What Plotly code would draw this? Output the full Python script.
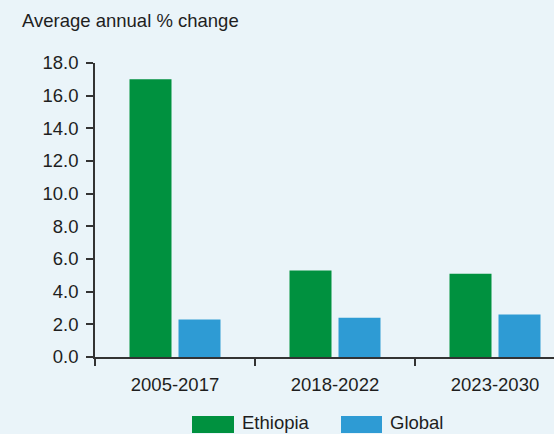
import plotly.graph_objects as go

categories = ["2005-2017", "2018-2022", "2023-2030"]
ethiopia = [17.0, 5.3, 5.1]
global_vals = [2.3, 2.4, 2.6]
y_ticks = [0, 2, 4, 6, 8, 10, 12, 14, 16, 18]
y_tick_labels = ["0.0", "2.0", "4.0", "6.0", "8.0", "10.0", "12.0", "14.0", "16.0", "18.0"]

GREEN = "#00913F"
BLUE = "#2E9BD4"
BG = "#EAF4F9"
AXIS = "#333333"
TXT = "#1e1e1e"
FONT = "Liberation Sans, Arial, Helvetica, sans-serif"
FS = 18.5

W, H = 554, 434
L, R, T, B = 95, 0, 63, 77

fig = go.Figure()
fig.add_trace(go.Bar(x=categories, y=ethiopia, name="Ethiopia", marker=dict(color=GREEN, line=dict(width=0)), showlegend=False))
fig.add_trace(go.Bar(x=categories, y=global_vals, name="Global", marker=dict(color=BLUE, line=dict(width=0)), showlegend=False))

# custom legend (large swatches)
def px_x(px):
    return (px - L) / (W - L - R)

def px_y(py):
    return (H - B - py) / (H - T - B)

legend_items = [("Ethiopia", GREEN, 192, 234), ("Global", BLUE, 341, 382)]
for name, color, x0, x1 in legend_items:
    fig.add_shape(type="rect", xref="paper", yref="paper",
                  x0=px_x(x0), x1=px_x(x1), y0=px_y(433), y1=px_y(416),
                  fillcolor=color, line=dict(width=0), layer="above")
    fig.add_annotation(xref="paper", yref="paper", x=px_x(x1 + 7), y=px_y(422.5),
                       text=name, showarrow=False, xanchor="left", yanchor="middle",
                       borderpad=0,
                       font=dict(size=FS, color=TXT, family=FONT))

fig.update_layout(
    width=W, height=H,
    margin=dict(l=L, r=R, t=T, b=B, pad=0),
    paper_bgcolor=BG, plot_bgcolor=BG,
    barmode="group", bargap=0.3875, bargroupgap=0.143,
    font=dict(family=FONT, size=FS, color=TXT),
    title=dict(text="Average annual % change", xref="container", yref="container",
               x=22 / W, xanchor="left", y=1 - 21 / H, yanchor="middle",
               font=dict(size=FS, color=TXT, family=FONT)),
    showlegend=False,
)
fig.update_xaxes(
    range=[-0.5, -0.5 + (W - L) / 160.0],
    showline=True, linecolor=AXIS, linewidth=1.5,
    ticks="outside", tickson="boundaries", ticklen=7, tickcolor=AXIS, tickwidth=1.5,
    showgrid=False, zeroline=False,
    tickfont=dict(size=FS, color=TXT, family=FONT),
    ticklabelstandoff=10,
)
fig.update_yaxes(
    range=[0, 18], tickvals=y_ticks, ticktext=y_tick_labels,
    showline=True, linecolor=AXIS, linewidth=1.5,
    ticks="outside", ticklen=7, tickcolor=AXIS, tickwidth=1.5,
    showgrid=False, zeroline=False,
    tickfont=dict(size=FS, color=TXT, family=FONT),
    ticklabelstandoff=4,
)

fig.write_html("out.html", config={"displayModeBar": False},
               post_script="document.body.style.margin='0';document.body.style.background='%s';" % BG)
